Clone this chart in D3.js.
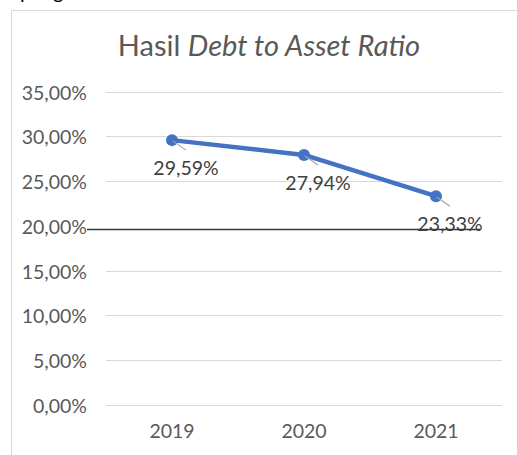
<!DOCTYPE html>
<html>
<head>
<meta charset="utf-8">
<script src="https://cdn.jsdelivr.net/npm/d3@7"></script>
<style>
  html, body { margin: 0; padding: 0; background: #ffffff; }
  svg { display: block; }
</style>
</head>
<body>
<svg id="chart" width="517" height="455"></svg>
<script>
const years = ["2019", "2020", "2021"];
const ratios = [29.59, 27.94, 23.33];
const dataLabels = ["29,59%", "27,94%", "23,33%"];
const yTicks = [0, 5, 10, 15, 20, 25, 30, 35];
const yTickLabels = ["0,00%", "5,00%", "10,00%", "15,00%", "20,00%", "25,00%", "30,00%", "35,00%"];
const markerValue = 20; // position of the drawn black line

const svg = d3.select("#chart");
const font = "Lato, 'Open Sans', sans-serif";

// fragment of document text above the chart (cut off at the top in the reference)
svg.append("text")
  .attr("x", 4).attr("y", -1)
  .attr("font-family", font).attr("font-size", 20).attr("fill", "#000")
  .text("dipengaruhi");

// chart border (top + left visible)
svg.append("path")
  .attr("d", "M11.5,455 L11.5,10.5 L517,10.5")
  .attr("fill", "none").attr("stroke", "#d9d9d9").attr("stroke-width", 1);

const x = d3.scaleBand().domain(years).range([106, 502]);
const y = d3.scaleLinear().domain([0, 35]).range([405, 91.7]);

// gridlines
svg.append("g").selectAll("line")
  .data(yTicks.filter(t => t !== markerValue))
  .join("line")
  .attr("x1", 106).attr("x2", 502)
  .attr("y1", d => Math.round(y(d)) + 0.5).attr("y2", d => Math.round(y(d)) + 0.5)
  .attr("stroke", "#d9d9d9").attr("stroke-width", 1);

// y tick labels
svg.append("g").selectAll("text")
  .data(yTicks)
  .join("text")
  .attr("x", 87)
  .attr("y", d => y(d) + 8)
  .attr("text-anchor", "end")
  .attr("font-family", font).attr("font-size", 19.5).attr("fill", "#595959")
  .text((d, i) => yTickLabels[i]);

// x tick labels
svg.append("g").selectAll("text")
  .data(years)
  .join("text")
  .attr("x", d => x(d) + x.bandwidth() / 2)
  .attr("y", 438)
  .attr("text-anchor", "middle")
  .attr("font-family", font).attr("font-size", 19.5).attr("fill", "#595959")
  .text(d => d);

// title
const title = svg.append("text")
  .attr("x", 269).attr("y", 56)
  .attr("text-anchor", "middle")
  .attr("font-family", font).attr("font-size", 29).attr("fill", "#595959");
title.append("tspan").text("Hasil ");
title.append("tspan").attr("font-style", "italic").text("Debt to Asset Ratio");

const pts = years.map((yr, i) => ({ yr, v: ratios[i], label: dataLabels[i] }));
const px = d => x(d.yr) + x.bandwidth() / 2;
const py = d => y(d.v);

// line
svg.append("path")
  .datum(pts)
  .attr("d", d3.line().x(px).y(py))
  .attr("fill", "none").attr("stroke", "#4472C4").attr("stroke-width", 4.5)
  .attr("stroke-linejoin", "round").attr("stroke-linecap", "round");

// markers
svg.append("g").selectAll("circle")
  .data(pts).join("circle")
  .attr("cx", px).attr("cy", py).attr("r", 6)
  .attr("fill", "#4472C4");

// leader lines
svg.append("g").selectAll("line")
  .data(pts).join("line")
  .attr("x1", d => px(d) + 1).attr("y1", d => py(d) + 1)
  .attr("x2", d => px(d) + 14).attr("y2", d => py(d) + 10)
  .attr("stroke", "#a6a6a6").attr("stroke-width", 1.2);

// data labels
svg.append("g").selectAll("text")
  .data(pts).join("text")
  .attr("x", d => px(d) + 14)
  .attr("y", d => py(d) + 35)
  .attr("text-anchor", "middle")
  .attr("font-family", font).attr("font-size", 19.5).attr("fill", "#404040")
  .text(d => d.label);

// drawn black line across the chart near 20%
svg.append("line")
  .attr("x1", 87).attr("x2", 480)
  .attr("y1", y(markerValue) + 3.5).attr("y2", y(markerValue) + 3.5)
  .attr("stroke", "#3a3a3a").attr("stroke-width", 1.5);
</script>
</body>
</html>
